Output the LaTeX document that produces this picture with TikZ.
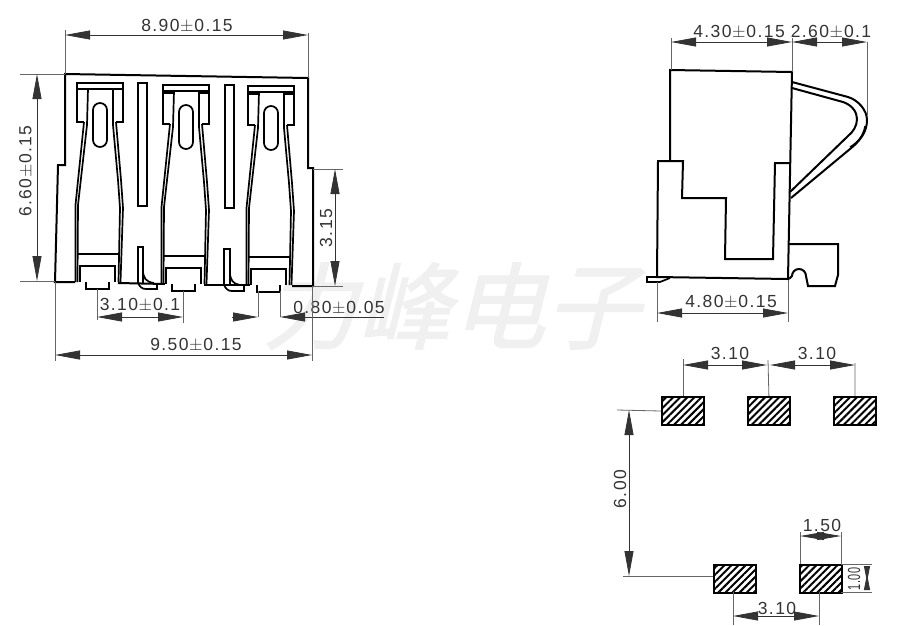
\documentclass[tikz,border=0pt]{standalone}
\usepackage{fontspec}
\setmainfont[LetterSpace=8]{Liberation Sans}
\newfontface\cjkmark[FakeBold=1.6]{Noto Sans CJK SC}
\usetikzlibrary{arrows.meta,patterns.meta}
\definecolor{dimgray}{gray}{0.4}
\newcommand{\plmin}{\kern0.5pt$\pm$\kern1pt}
\tikzset{
	outline/.style={draw=black,line width=2pt,line join=miter},
	pin outline/.style={draw=black,line width=1.7pt,line join=miter},
	thin outline/.style={draw=black,line width=1.3pt},
	extline/.style={draw=dimgray,line width=0.8pt},
	dimline/.style={draw=black!80,line width=0.8pt,{Triangle[length=25pt,width=9pt]}-{Triangle[length=25pt,width=9pt]}},
	dimhead/.style={draw=black!80,line width=0.8pt,-{Triangle[length=25pt,width=9pt]}},
	dimlabel/.style={text=black!80,font=\fontsize{17.5}{17.5}\selectfont,inner sep=0pt},
	watermark/.style={text=black!6,font=\cjkmark\fontsize{94}{94}\selectfont,inner sep=0pt,xslant=0.25,transform shape},
	pad/.style={draw=black,line width=1.8pt,pattern={Lines[angle=45,distance=5pt,line width=2pt]}},
}
\begin{document}
\begin{tikzpicture}[x=1pt,y=-1pt]
		\useasboundingbox (0,0) rectangle (913,625);
		%watermark behind everything
		\node[watermark] (mark) at (460,306) {力峰电子};
		%front view, housing
		\draw[outline] (75,282) -- (55,282) -- (58,165) -- (65,165) -- (65,74) -- (308,78) -- (308,168) -- (313,168) -- (313,286) -- (292,286);
		\draw[outline] (118,283) -- (165,284);
		\draw[outline] (204,285) -- (250,285);
		%put the three contacts, each a bit lower than the one before
		\foreach \x/\y in {0/0,86/2,171/3}{
			\begin{scope}[shift={(\x,\y)}]
				\draw[pin outline] (84,122) -- (77,122) -- (77,83) -- (123,83) -- (123,122) -- (116,122);
				\draw[thin outline] (77,89) -- (123,89);
				\draw[pin outline] (93,110) arc (180:360:7) -- (107,140) arc (0:180:7) -- cycle;
				%tines
				\draw[pin outline] (84,122) -- (75.5,205) -- (75.5,282);
				\draw[pin outline] (88,89) -- (87,125) -- (78,205) -- (77.5,282);
				\draw[pin outline] (116,122) -- (121,180) -- (123,208) -- (120.5,282);
				\draw[pin outline] (113,89) -- (113,125) -- (118,180) -- (120,208) -- (118.5,282);
				%foot
				\draw[pin outline] (78,254) -- (118,254);
				\draw[pin outline] (80,282) -- (80,266) -- (115,266) -- (115,282);
				\draw[pin outline] (86,282) -- (86,289) -- (109,289) -- (109,282);
			\end{scope}
		}
		\draw[thin outline] (163,93) -- (174,93);
		\draw[thin outline] (199,93) -- (209,93);
		\draw[thin outline] (248,94) -- (259,94);
		\draw[thin outline] (284,94) -- (294,94);
		%slots between the contacts
		\draw[pin outline] (138,83) rectangle (147,206);
		\draw[pin outline] (225,85) rectangle (234,208);
		\draw[pin outline] (143,283) -- (143,247) -- (138,247) -- (138,283) .. controls (140,287) and (142,289) .. (146,289) -- (157,289) -- (157,283);
		\draw[pin outline] (143,270) .. controls (143,278) and (146,282) .. (154,283);
		\draw[pin outline] (230,285) -- (230,249) -- (224,249) -- (224,285) .. controls (226,289) and (228,291) .. (232,291) -- (244,291) -- (244,285);
		\draw[pin outline] (230,272) .. controls (230,280) and (233,284) .. (240,285);
		%front view, dimensions
		\draw[extline] (65,30) -- (65,74);
		\draw[extline] (308,33) -- (308,78);
		\draw[dimline] (65,35) -- (308,35);
		\node[dimlabel] (topwidth) at (187,26) {8.90\plmin0.15};
		\draw[extline] (20,74) -- (65,74);
		\draw[extline] (20,281) -- (55,281);
		\draw[dimline] (37,74) -- (37,281);
		\node[dimlabel,rotate=90] (height) at (26,171) {6.60\plmin0.15};
		\draw[extline] (313,169) -- (343,169);
		\draw[extline] (313,286) -- (343,286);
		\draw[dimline] (335,169) -- (335,286);
		\node[dimlabel,rotate=90] (shoulder) at (326,228) {3.15};
		\draw[extline] (97,289) -- (97,320);
		\draw[extline] (183,291) -- (183,323);
		\draw[dimline] (97,317) -- (183,317);
		\node[dimlabel] (pitch) at (140,305) {3.10\plmin0.1};
		\draw[extline] (258,291) -- (258,317);
		\draw[extline] (280,291) -- (280,317);
		\draw[dimhead] (232,317) -- (258,317);
		\draw[dimhead] (384,317) -- (280,317);
		\node[dimlabel] (footw) at (339,308) {0.80\plmin0.05};
		\draw[extline] (55,282) -- (55,361);
		\draw[extline] (312,286) -- (312,361);
		\draw[dimline] (55,355) -- (312,355);
		\node[dimlabel] (botwidth) at (196,345) {9.50\plmin0.15};
		%side view, housing
		\draw[outline] (670,161) -- (670,70) -- (792,72) -- (788,279) -- (657,277) -- (658,161) -- (683,161) -- (682,198) -- (726,198) -- (725,259) -- (773,259) -- (775,163) -- (790,163);
		\draw[pin outline] (670,278) -- (660,282) -- (647,282) -- (647,277) -- (657,277);
		\draw[outline] (789,244) -- (838,244) -- (838,275) -- (835,286) -- (808,286) -- (806,276) arc (0:-180:7) -- (789,279);
		%spring arm
		\draw[outline] (792,82) -- (848,97) .. controls (858,100) and (867,110) .. (867,120) .. controls (867,132) and (860,141) .. (850,149) -- (791,198);
		\draw[outline] (792,88) -- (843,102) .. controls (852,105) and (857,112) .. (857,119) .. controls (857,126) and (853,132) .. (848,136) -- (790,192);
		\draw[thin outline] (865,126) .. controls (863,136) and (858,142) .. (850,147);
		%side view, dimensions
		\draw[extline] (671,38) -- (671,70);
		\draw[extline] (792,38) -- (792,72);
		\draw[extline] (867,42) -- (867,115);
		\draw[dimline] (671,42) -- (792,42);
		\draw[dimline] (792,42) -- (867,42);
		\node[dimlabel] (depth) at (739,32) {4.30\plmin0.15};
		\node[dimlabel] (reach) at (831,32) {2.60\plmin0.1};
		\draw[extline] (657,282) -- (657,322);
		\draw[extline] (788,280) -- (788,322);
		\draw[dimline] (657,313) -- (788,313);
		\node[dimlabel] (base) at (731,302) {4.80\plmin0.15};
		%land pattern
		\foreach \name/\x/\y in {pada/661/396,padb/747/396,padc/833/396,padd/713/564,pade/799/564}{
			\node[pad,minimum width=42pt,minimum height=28pt,inner sep=0pt,anchor=north west] (\name) at (\x,\y) {};
		}
		%land pattern, dimensions
		\draw[extline] (683,359) -- (683,396);
		\draw[extline] (768,360) -- (padb.north);
		\draw[extline] (855,363) -- (padc.north);
		\draw[dimline] (683,365) -- (767,365);
		\draw[dimline] (770,365) -- (855,365);
		\node[dimlabel] (pitcha) at (730,353) {3.10};
		\node[dimlabel] (pitchb) at (817,353) {3.10};
		\draw[extline] (617,410) -- (pada.west);
		\draw[extline] (623,576) -- (713,576);
		\draw[dimline] (629,410) -- (629,576);
		\node[dimlabel,rotate=90] (rowgap) at (620,489) {6.00};
		\draw[extline] (733,592) -- (733,625);
		\draw[extline] (819,592) -- (819,625);
		\draw[dimline] (733,616) -- (819,616);
		\node[dimlabel] (pitchc) at (777,608) {3.10};
		\draw[extline] (800,532) -- (800,564);
		\draw[extline] (841,532) -- (841,564);
		\draw[dimline,{Triangle[length=24pt,width=8pt]}-{Triangle[length=24pt,width=8pt]}] (800,536) -- (841,536);
		\node[dimlabel] (padw) at (822,525) {1.50};
		\draw[extline] (841,564) -- (872,564);
		\draw[extline] (841,592) -- (872,592);
		\draw[dimline,{Triangle[reversed,length=16pt,width=6pt]}-{Triangle[reversed,length=16pt,width=6pt]}] (867,566) -- (867,590);
		\node[dimlabel,rotate=90,xscale=0.62,transform shape] (padh) at (854,579) {1.00};
		\end{tikzpicture}
\end{document}
